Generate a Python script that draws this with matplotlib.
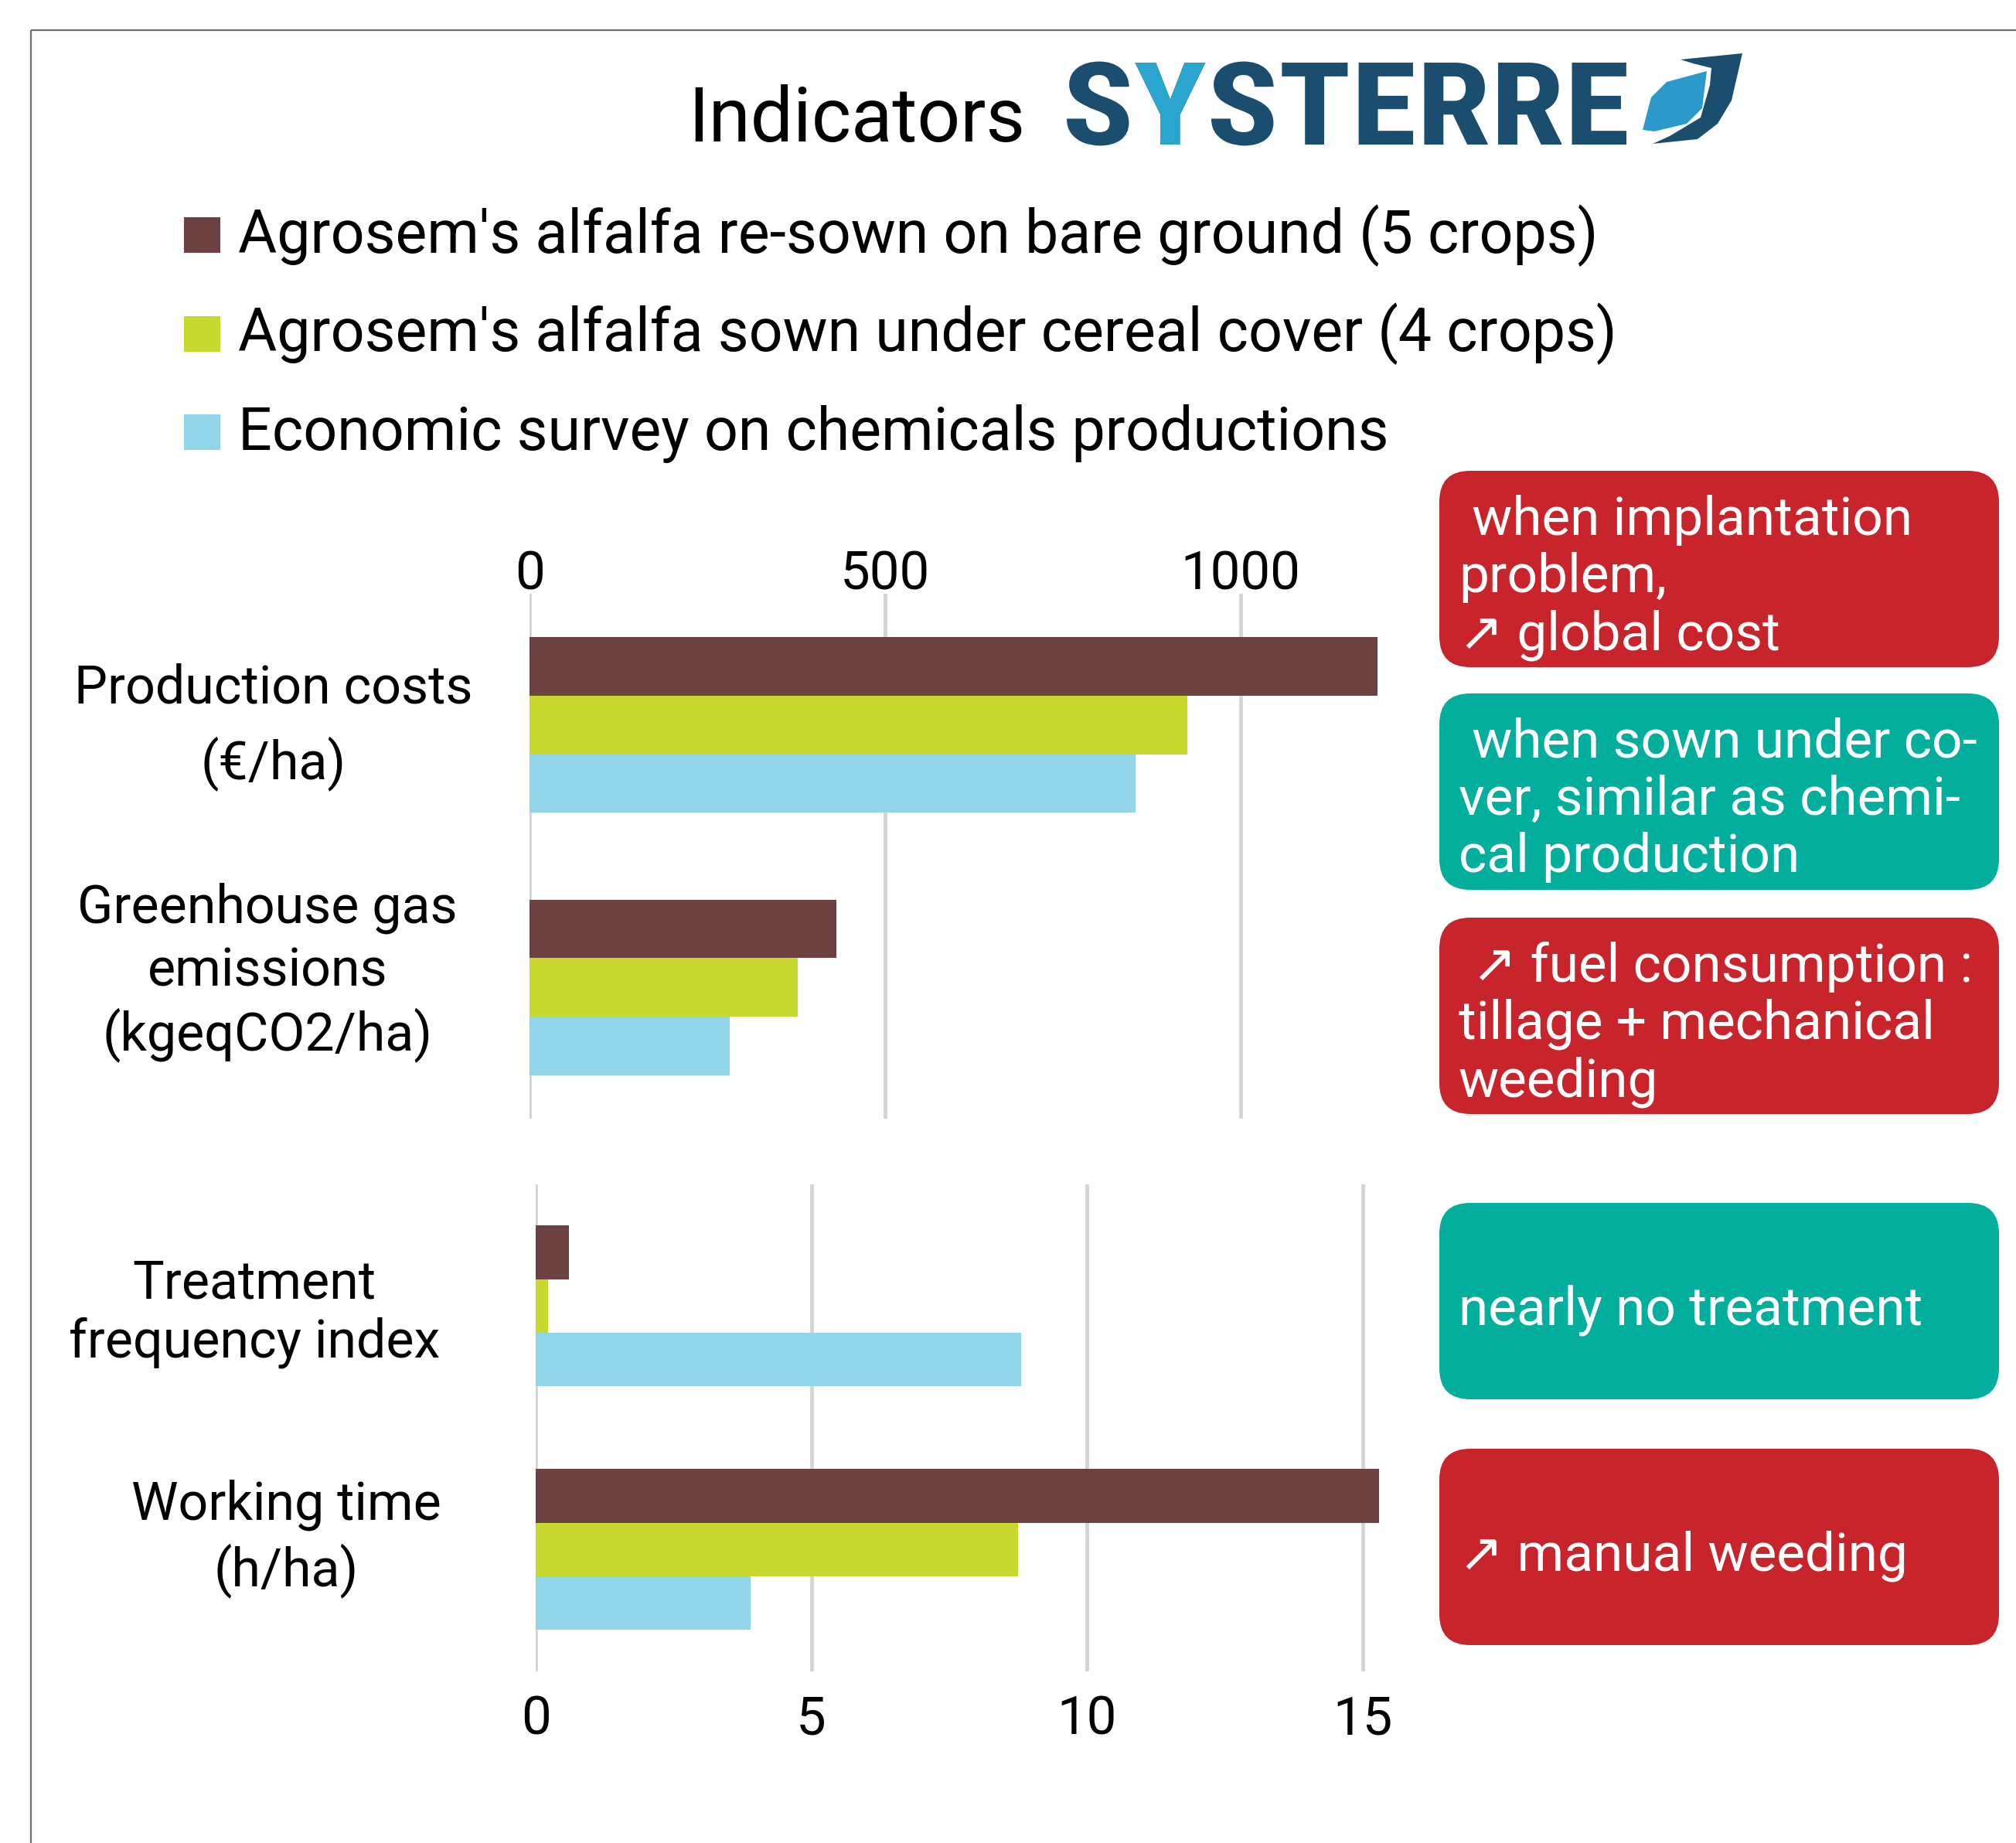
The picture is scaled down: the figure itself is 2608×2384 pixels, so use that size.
import matplotlib.pyplot as plt
import numpy as np
from matplotlib import font_manager
from matplotlib.font_manager import FontProperties
from matplotlib.patches import FancyBboxPatch, PathPatch, Polygon, Rectangle
from matplotlib.path import Path
from matplotlib.textpath import TextPath
from matplotlib.transforms import Affine2D

# Data
series = ["Agrosem's alfalfa re-sown on bare ground (5 crops)",
          "Agrosem's alfalfa sown under cereal cover (4 crops)",
          "Economic survey on chemicals productions"]
colors = ['#6B4241', '#C7D92E', '#93D5E8']

top_labels = ['Production costs\n(€/ha)', 'Greenhouse gas\nemissions\n(kgeqCO2/ha)']
bare_top = [1192, 431]
cover_top = [925, 377]
survey_top = [852, 281]
top_ticks = [0, 500, 1000]

bottom_labels = ['Treatment\nfrequency index', 'Working time\n(h/ha)']
bare_bottom = [0.6, 15.3]
cover_bottom = [0.23, 8.75]
survey_bottom = [8.8, 3.9]
bottom_ticks = [0, 5, 10, 15]

notes = [' when implantation\nproblem,\n↗ global cost',
         ' when sown under co-\nver, similar as chemi-\ncal production',
         ' ↗ fuel consumption :\ntillage + mechanical\nweeding',
         'nearly no treatment',
         '↗ manual weeding']
note_colors = ['#C8242C', '#03AE9D', '#C8242C', '#03AE9D', '#C8242C']

# Fonts, DejaVu as glyph fallback (arrows)
avail = {f.name for f in font_manager.fontManager.ttflist}
FONT = next((f for f in ['Roboto', 'Roboto Condensed', 'Liberation Sans Narrow']
             if f in avail), 'DejaVu Sans')
LOGO_FONT = 'Roboto Condensed' if 'Roboto Condensed' in avail else FONT
FAM = [FONT, 'DejaVu Sans']
plt.rcParams['font.family'] = FAM

W, H = 2608, 2384
fig = plt.figure(figsize=(W / 100, H / 100), dpi=100)
renderer = fig.canvas.get_renderer()


def fit(s, size, target):
    w = renderer.get_text_width_height_descent(
        s, FontProperties(family=FAM, size=size), ismath=False)[0]
    return min(size * 1.05, size * target / w)


legend_fs = fit(series[0], 55, 1760)
label_fs = fit('Production costs', 53, 516)
title_fs = fit('Indicators', 75, 436)
note_fs = fit('when implantation', 53, 570)
tick_fs = fit('1000', 54, 155)

# overlay in pixel coordinates (y downwards) for frame, title, legend, notes
ov = fig.add_axes([0, 0, 1, 1])
ov.set_xlim(0, W)
ov.set_ylim(H, 0)
ov.axis('off')

ov.plot([40, W], [39, 39], color='#6E6E6E', lw=1.6, solid_capstyle='butt')
ov.plot([40, 40], [39, H], color='#6E6E6E', lw=1.6, solid_capstyle='butt')

ov.text(890, 183, 'Indicators', fontsize=title_fs, va='baseline', ha='left')

# SYSTERRE logo
lp = FontProperties(family=[LOGO_FONT, 'DejaVu Sans'], weight='bold', size=100)
full = TextPath((0, 0), 'SYSTERRE', prop=lp)
p_s = TextPath((0, 0), 'S', prop=lp)
p_sy = TextPath((0, 0), 'SY', prop=lp)
cap = TextPath((0, 0), 'E', prop=lp).get_extents().y1
bb = full.get_extents()
sx = (2104 - 1380) / bb.width
sy = (187 - 81) / cap
tr = Affine2D().translate(-bb.x0, 0).scale(sx, -sy).translate(1380, 187)
ov.add_patch(PathPatch(tr.transform_path(full), color='#1B4E6E', lw=0))
n = len(p_s.vertices)
y_path = Path(p_sy.vertices[n:], p_sy.codes[n:])
ov.add_patch(PathPatch(tr.transform_path(y_path), color='#2AA5CE', lw=0))
ov.add_patch(Polygon([(2174, 77), (2254, 69), (2240, 130), (2222, 160), (2196, 180),
                      (2138, 186), (2160, 176), (2200, 152), (2212, 110), (2214, 88),
                      (2190, 82)], closed=True, color='#1B4E6E', lw=0))
ov.add_patch(Polygon([(2125, 168), (2136, 126), (2156, 106), (2208, 92), (2202, 140),
                      (2182, 160), (2140, 170)], closed=True, color='#2B9ACB', lw=0))

# legend
for i, (name, c) in enumerate(zip(series, colors)):
    base = 327 + 127.5 * i
    ov.add_patch(Rectangle((238, base - 46), 47, 46, color=c, lw=0))
    ov.text(308, base, name, fontsize=legend_fs, va='baseline', ha='left')

# note boxes
box_tops = [609, 897, 1187, 1556, 1874]
for txt, c, top in zip(notes, note_colors, box_tops):
    ov.add_patch(FancyBboxPatch((1862, top), 724, 254,
                                boxstyle='round,pad=0,rounding_size=40',
                                color=c, lw=0))
    lines = txt.split('\n')
    for i, line in enumerate(lines):
        base = top + 157 + (i - (len(lines) - 1) / 2) * 74.5
        ov.text(1887, base, line, fontsize=note_fs, color='white',
                va='baseline', ha='left')

# category labels: (x centre, first baseline, line step)
label_pos = [(354, 909, 98), (346, 1194, 82), (329, 1679, 77), (370, 1966, 85)]
for lab, (xc, b0, step) in zip(top_labels + bottom_labels, label_pos):
    for i, line in enumerate(lab.split('\n')):
        ov.text(xc, b0 + i * step, line, fontsize=label_fs, va='baseline', ha='center')


def panel(ax, values, xmax, ticks, height, top):
    y = np.arange(len(values[0]))
    for j, (vals, c) in enumerate(zip(values, colors)):
        ax.barh(y + (j - 1) * height, vals, height=height, color=c, lw=0, zorder=2)
    ax.set_xlim(0, xmax)
    ax.set_ylim(len(y) - 0.5, -0.5)
    ax.set_xticks(ticks)
    ax.set_yticks([])
    ax.grid(axis='x', color='#D3D3D3', lw=3.4)
    ax.set_axisbelow(True)
    for s in ax.spines.values():
        s.set_visible(False)
    ax.set_facecolor('none')
    if top:
        ax.xaxis.tick_top()
        ax.tick_params(axis='x', length=0, labelsize=tick_fs, pad=-6)
    else:
        ax.tick_params(axis='x', length=0, labelsize=tick_fs, pad=21)


ax1 = fig.add_axes([685 / W, 1 - 1447 / H, 1104 / W, 679 / H])
panel(ax1, [bare_top, cover_top, survey_top], 1200, top_ticks, 0.223, True)

ax2 = fig.add_axes([693 / W, 1 - 2162 / H, 1091 / W, 630.4 / H])
panel(ax2, [bare_bottom, cover_bottom, survey_bottom], 15.3, bottom_ticks, 0.22, False)

fig.savefig('out.png', dpi=100, facecolor='white')
